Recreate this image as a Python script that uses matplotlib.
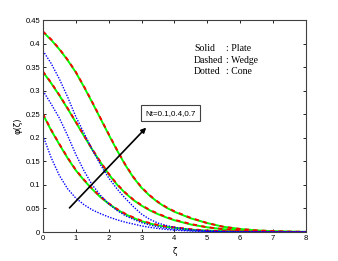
import matplotlib
matplotlib.use("Agg")
import matplotlib.pyplot as plt

# similarity variable
zeta = [0, 0.25, 0.5, 0.75, 1, 1.25, 1.5, 1.75, 2, 2.25, 2.5, 2.75, 3, 3.25,
        3.5, 3.75, 4, 4.5, 5, 5.5, 6, 6.5, 7, 7.5, 8]

# plate (solid), Nt = 0.1, 0.4, 0.7
plate_1 = [0.250, 0.216, 0.186, 0.157, 0.131, 0.110, 0.091, 0.074, 0.060, 0.048, 0.038, 0.030, 0.023,
           0.018, 0.014, 0.011, 0.009, 0.005, 0.003, 0.002, 0.001, 0.0005, 0.0002, 0.0001, 0.0]
plate_2 = [0.340, 0.316, 0.290, 0.262, 0.233, 0.204, 0.175, 0.148, 0.123, 0.101, 0.083, 0.068, 0.056,
           0.046, 0.038, 0.031, 0.025, 0.016, 0.010, 0.006, 0.0035, 0.002, 0.001, 0.0005, 0.0002]
plate_3 = [0.425, 0.408, 0.388, 0.365, 0.339, 0.308, 0.275, 0.241, 0.207, 0.174, 0.143, 0.116, 0.094,
           0.077, 0.063, 0.052, 0.043, 0.029, 0.019, 0.011, 0.0065, 0.0035, 0.0018, 0.0008, 0.0003]

# wedge (dashed)
wedge_1 = [0.251, 0.217, 0.187, 0.158, 0.132, 0.111, 0.092, 0.075, 0.061, 0.049, 0.039, 0.031, 0.024,
           0.019, 0.015, 0.012, 0.010, 0.006, 0.003, 0.002, 0.001, 0.0005, 0.0002, 0.0001, 0.0]
wedge_2 = [0.341, 0.317, 0.291, 0.263, 0.234, 0.205, 0.176, 0.149, 0.124, 0.102, 0.084, 0.069, 0.057,
           0.047, 0.039, 0.032, 0.026, 0.017, 0.010, 0.006, 0.0035, 0.002, 0.001, 0.0005, 0.0002]
wedge_3 = [0.426, 0.409, 0.389, 0.366, 0.340, 0.309, 0.276, 0.242, 0.208, 0.175, 0.144, 0.117, 0.095,
           0.078, 0.064, 0.053, 0.044, 0.030, 0.019, 0.011, 0.0065, 0.0035, 0.0018, 0.0008, 0.0003]

# cone (dotted)
cone_1 = [0.205, 0.158, 0.120, 0.092, 0.072, 0.058, 0.047, 0.039, 0.032, 0.026, 0.021, 0.017, 0.013,
          0.010, 0.0075, 0.0055, 0.004, 0.002, 0.001, 0.0005, 0.0002, 0.0001, 0, 0, 0]
cone_2 = [0.300, 0.272, 0.242, 0.205, 0.165, 0.130, 0.100, 0.078, 0.060, 0.046, 0.035, 0.027, 0.020,
          0.015, 0.011, 0.008, 0.006, 0.003, 0.0015, 0.0007, 0.0003, 0.0001, 0, 0, 0]
cone_3 = [0.385, 0.358, 0.325, 0.287, 0.245, 0.210, 0.175, 0.143, 0.115, 0.092, 0.072, 0.054, 0.038,
          0.027, 0.019, 0.014, 0.010, 0.005, 0.0025, 0.0012, 0.0005, 0.0002, 0.0001, 0, 0]

xticks = [0, 1, 2, 3, 4, 5, 6, 7, 8]
yticks = [0, 0.05, 0.1, 0.15, 0.2, 0.25, 0.3, 0.35, 0.4, 0.45]
ytick_labels = ['0', '0.05', '0.1', '0.15', '0.2', '0.25', '0.3', '0.35', '0.4', '0.45']

plt.rcParams['font.family'] = ['Liberation Sans', 'DejaVu Sans']

fig = plt.figure(figsize=(3.38, 2.61), dpi=100)
ax = fig.add_axes([0.127, 0.111, 0.778, 0.812])

for y in (plate_1, plate_2, plate_3):
    ax.plot(zeta, y, color='#00ff00', lw=1.4, ls='-')
for y in (wedge_1, wedge_2, wedge_3):
    ax.plot(zeta, y, color='#ff0000', lw=1.4, ls=(0, (2.2, 2.2)))
for y in (cone_1, cone_2, cone_3):
    ax.plot(zeta, y, color='#0000ff', lw=1.0, ls=(0, (1, 1)))

ax.set_xlim(0, 8)
ax.set_ylim(0, 0.45)
ax.set_xticks(xticks)
ax.set_yticks(yticks)
ax.set_yticklabels(ytick_labels)
ax.tick_params(direction='in', top=True, right=True, labelsize=5.5, length=2.5, width=0.6, pad=2)
for s in ax.spines.values():
    s.set_linewidth(0.8)
    s.set_color('#404040')

ax.set_xlabel('ζ', fontsize=6, family='DejaVu Sans')
ax.set_ylabel('φ(ζ)', fontsize=6, family='DejaVu Sans', labelpad=2)

ax.annotate('', xy=(3.2, 0.226), xytext=(0.75, 0.047),
            arrowprops=dict(arrowstyle='-|>', color='black', lw=1.2, mutation_scale=7))
ax.text(3.12, 0.252, 'Nt=0.1,0.4,0.7', fontsize=5.8, va='center', ha='left',
        bbox=dict(boxstyle='square,pad=0.55', fc='white', ec='#404040', lw=0.8))

legend_x1 = 4.6
legend_x2 = 5.58
ax.text(legend_x1, 0.389, 'Solid', fontsize=7, family='Liberation Serif', va='center')
ax.text(legend_x1, 0.364, 'Dashed', fontsize=7, family='Liberation Serif', va='center')
ax.text(legend_x1, 0.340, 'Dotted', fontsize=7, family='Liberation Serif', va='center')
ax.text(legend_x2, 0.389, ': Plate', fontsize=7, family='Liberation Serif', va='center')
ax.text(legend_x2, 0.364, ': Wedge', fontsize=7, family='Liberation Serif', va='center')
ax.text(legend_x2, 0.340, ': Cone', fontsize=7, family='Liberation Serif', va='center')

fig.savefig('out.png', dpi=100)
